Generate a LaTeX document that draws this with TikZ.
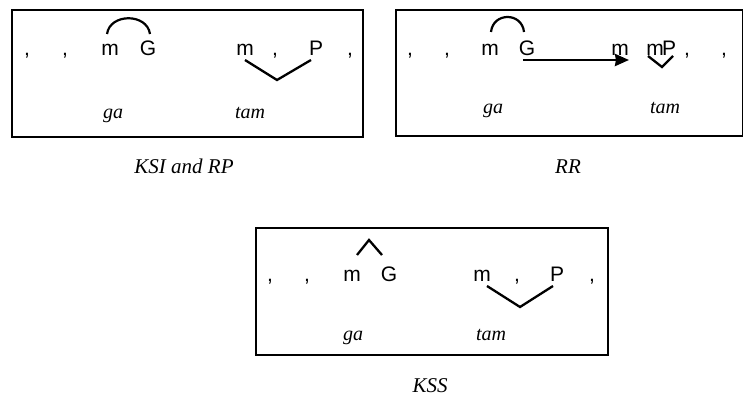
\documentclass[tikz,border=0pt]{standalone}
\usepackage{fontspec}
\setmainfont{Liberation Serif}
\newfontfamily\lsans{Liberation Sans}
\usetikzlibrary{arrows.meta}
\begin{document}
\begin{tikzpicture}[x=1pt,y=-1pt,
  frame/.style={draw=black,line width=2pt},
  seg/.style={font=\lsans\fontsize{21}{23}\selectfont,anchor=base,inner sep=0pt},
  gloss/.style={font=\itshape\fontsize{20}{22}\selectfont,anchor=base,inner sep=0pt},
  captext/.style={font=\itshape\fontsize{21}{23}\selectfont,anchor=base,inner sep=0pt},
  link/.style={draw=black,line width=2.3pt},
  arcline/.style={draw=black,line width=2.2pt}]
\useasboundingbox (0,0) rectangle (743,396);
% ---------- Box 1: KSI and RP ----------
\node[frame,minimum width=351pt,minimum height=127pt,anchor=north west,inner sep=0pt] (b1) at (11,9) {};
\node[seg] (a1) at (27,56) {,};
\node[seg] (a2) at (65,56) {,};
\node[seg] (a3) at (110,56) {m};
\node[seg] (a4) at (148,56) {G};
\node[seg] (a5) at (245,56) {m};
\node[seg] (a6) at (275,56) {,};
\node[seg] (a7) at (316,56) {P};
\node[seg] (a8) at (350,56) {,};
\node[gloss] (ag) at (113,118) {ga};
\node[gloss] (at) at (250,118) {tam};
\coordinate (a1s) at (107,34);
\coordinate (a1e) at (150,34);
\draw[arcline] (a1s) .. controls (110,13) and (147,13) .. (a1e);
\coordinate (av1) at (245,60);
\coordinate (av2) at (277,80);
\coordinate (av3) at (311,60);
\draw[link] (av1) -- (av2) -- (av3);
\node[captext] (c1) at (184,173) {KSI and RP};
% ---------- Box 2: RR ----------
\node[frame,minimum width=347pt,minimum height=126pt,anchor=north west,inner sep=0pt] (b2) at (395,9) {};
\node[seg] (r1) at (410,56) {,};
\node[seg] (r2) at (447,56) {,};
\node[seg] (r3) at (490,56) {m};
\node[seg] (r4) at (527,56) {G};
\node[seg] (r5) at (620,56) {m};
\node[seg] (r6) at (655,56) {m};
\node[seg] (r7) at (669,56) {P};
\node[seg] (r8) at (687,56) {,};
\node[seg] (r9) at (724,56) {,};
\node[gloss] (rg) at (493,113) {ga};
\node[gloss] (rt) at (665,113) {tam};
\coordinate (r1s) at (491,32);
\coordinate (r1e) at (524,32);
\draw[arcline] (r1s) .. controls (493,12) and (522,12) .. (r1e);
\coordinate (ra1) at (523,60);
\coordinate (ra2) at (629,60);
\draw[line width=2.8pt,-{Stealth[length=14pt,width=12pt,inset=1pt]}] (ra1) -- (ra2);
\coordinate (rv1) at (648,56);
\coordinate (rv2) at (662,67);
\coordinate (rv3) at (673,56);
\draw[link] (rv1) -- (rv2) -- (rv3);
\node[captext] (c2) at (568,173) {RR};
% ---------- Box 3: KSS ----------
\node[frame,minimum width=352pt,minimum height=127pt,anchor=north west,inner sep=0pt] (b3) at (255,227) {};
\node[seg] (k1) at (270,281) {,};
\node[seg] (k2) at (307,281) {,};
\node[seg] (k3) at (352,281) {m};
\node[seg] (k4) at (389,281) {G};
\node[seg] (k5) at (482,281) {m};
\node[seg] (k6) at (517,281) {,};
\node[seg] (k7) at (557,281) {P};
\node[seg] (k8) at (592,281) {,};
\node[gloss] (kg) at (353,340) {ga};
\node[gloss] (kt) at (491,340) {tam};
\coordinate (kc1) at (357,255);
\coordinate (kc2) at (369,240);
\coordinate (kc3) at (382,255);
\draw[link] (kc1) -- (kc2) -- (kc3);
\coordinate (kv1) at (487,286);
\coordinate (kv2) at (520,307);
\coordinate (kv3) at (553,286);
\draw[link] (kv1) -- (kv2) -- (kv3);
\node[captext] (c3) at (430,392) {KSS};
\end{tikzpicture}
\end{document}
